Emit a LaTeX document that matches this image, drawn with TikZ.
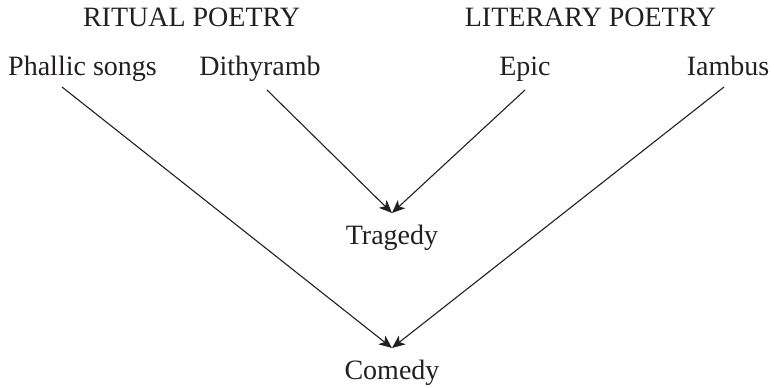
\documentclass[tikz,border=0pt]{standalone}
\usepackage{fontspec}
\setmainfont{Liberation Serif}
\usetikzlibrary{arrows.meta}
\definecolor{ink}{HTML}{231F20}
\tikzset{
  lbl/.style={font=\fontsize{28}{32}\selectfont, text=ink, inner sep=0pt, anchor=base},
  tip/.style={font=\fontsize{28}{32}\selectfont, text=ink, anchor=north, text height=20pt, text depth=6pt, inner xsep=0pt, inner ysep=11pt},
  conn/.style={draw=ink, line width=1.1pt, -{Stealth[length=13pt, width=11pt, inset=3.5pt]}}
}
\begin{document}
\begin{tikzpicture}[x=1pt, y=-1pt]
\useasboundingbox (0,0) rectangle (774,388);
\node[lbl] (rit) at (191.5,27) {RITUAL POETRY};
\node[lbl] (lit) at (590.5,27) {LITERARY POETRY};
\node[lbl] (ph) at (82.5,75) {Phallic songs};
\node[lbl] (di) at (260,75) {Dithyramb};
\node[lbl] (ep) at (525,75) {Epic};
\node[lbl] (ia) at (728,75) {Iambus};
\node[tip] (tr) at (392,213) {Tragedy};
\node[tip] (co) at (392,348) {Comedy};
\coordinate (phs) at (62,87);
\coordinate (dis) at (267,90);
\coordinate (eps) at (525,90);
\coordinate (ias) at (724,87);
\draw[conn] (phs) -- (co.north);
\draw[conn] (ias) -- (co.north);
\draw[conn] (dis) -- (tr.north);
\draw[conn] (eps) -- (tr.north);
\end{tikzpicture}
\end{document}
